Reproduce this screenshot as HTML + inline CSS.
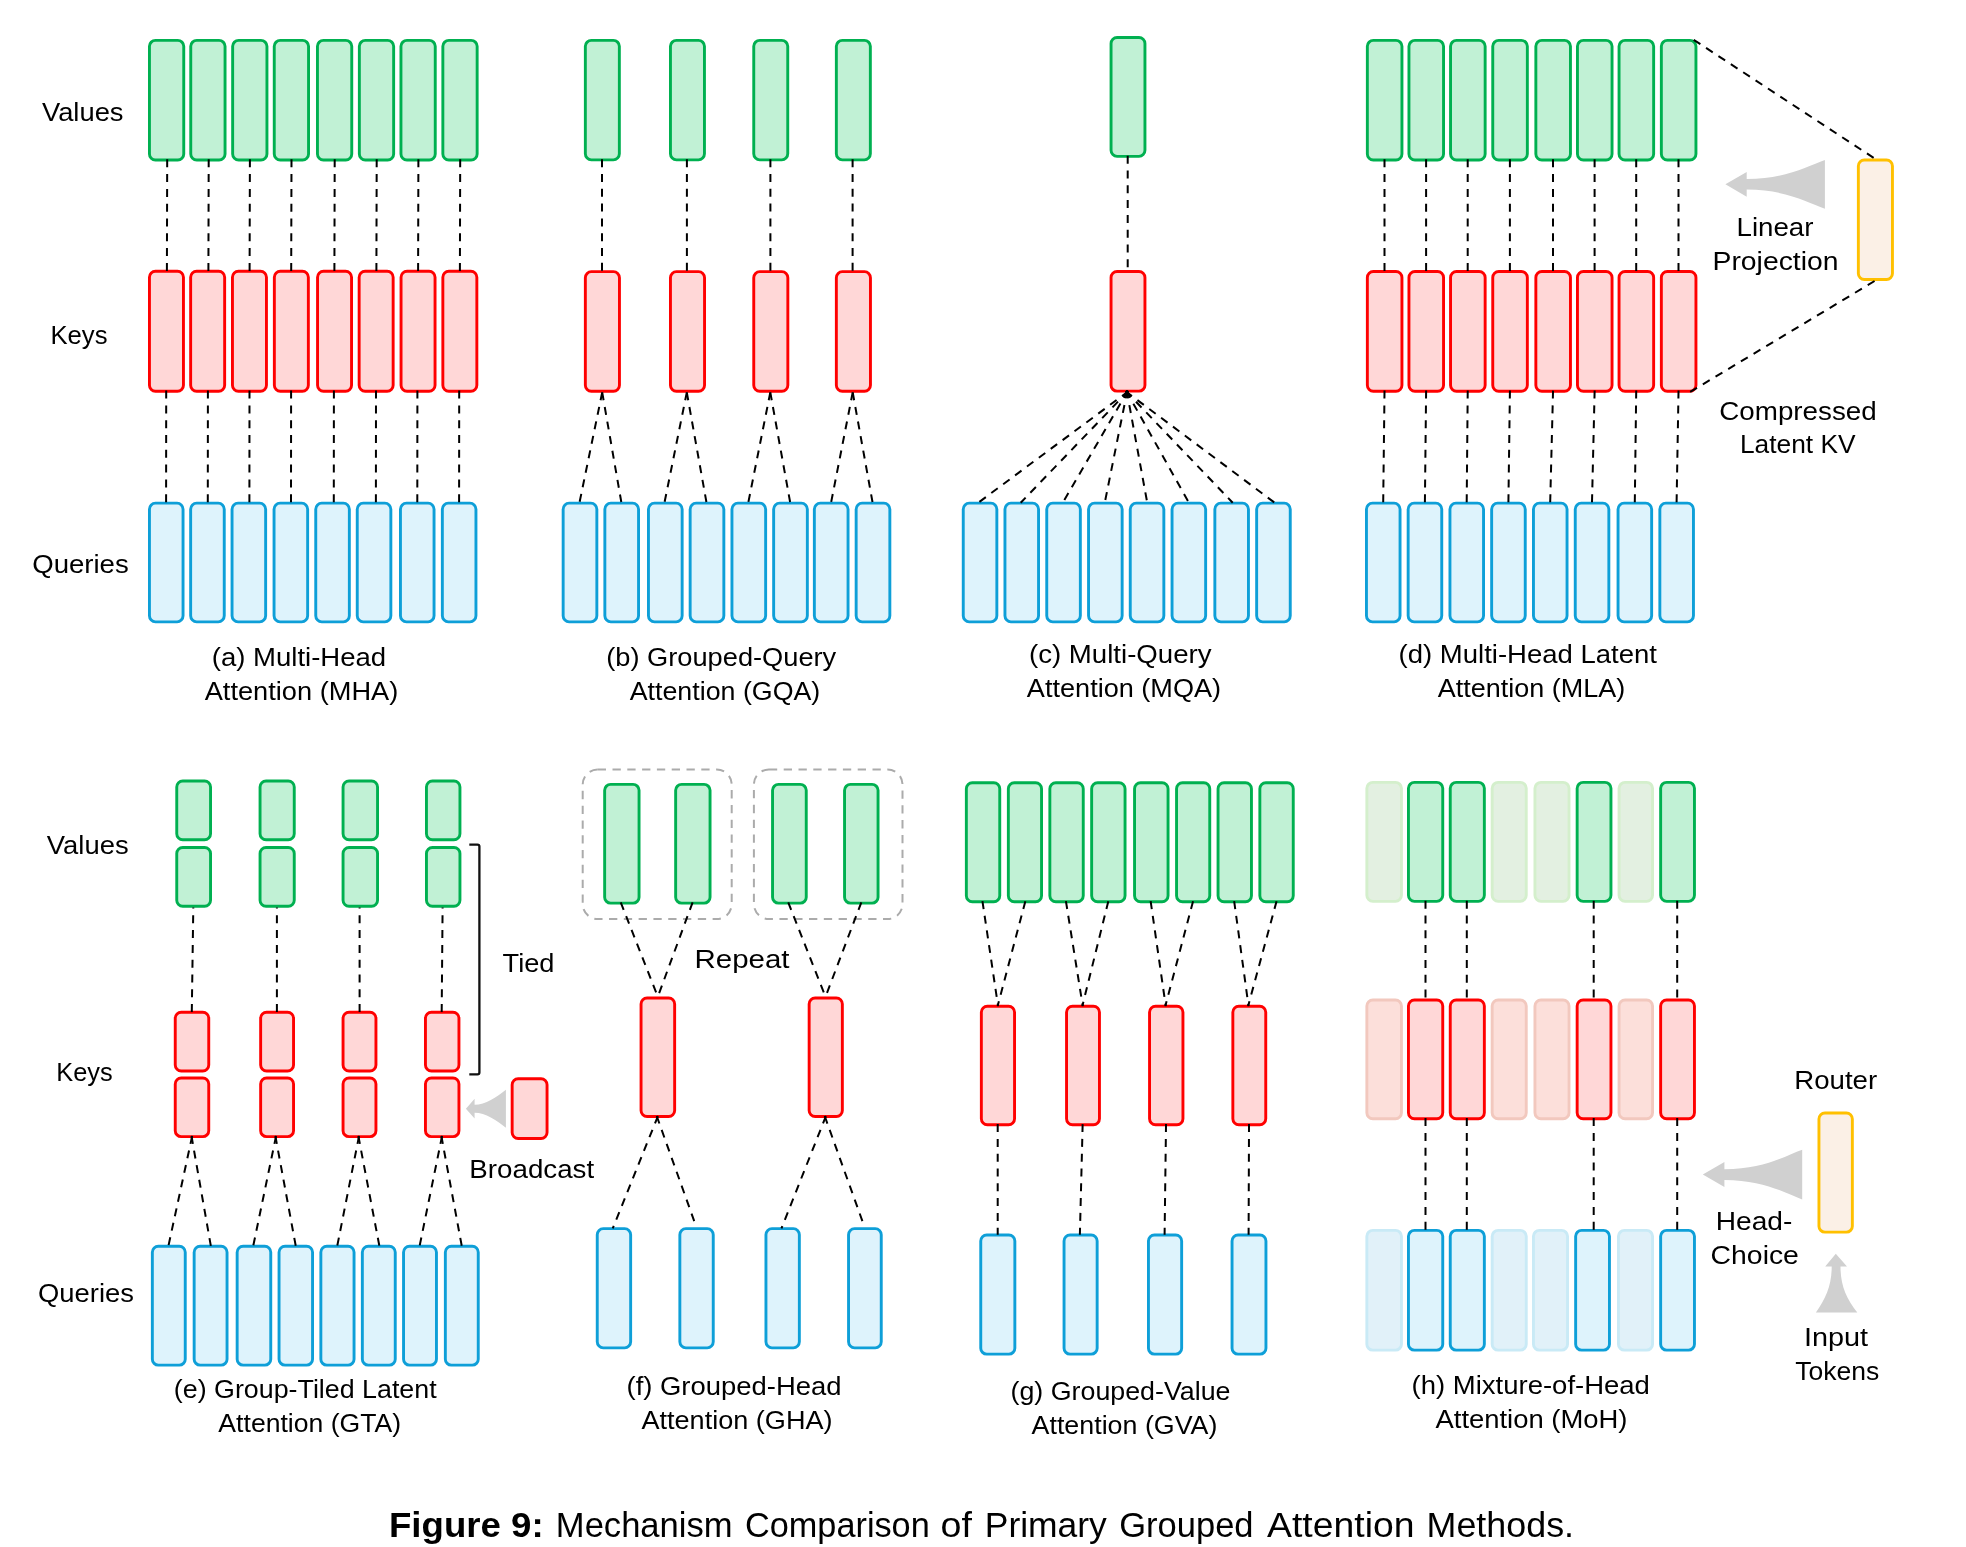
<!DOCTYPE html>
<html><head><meta charset="utf-8"><style>
html,body{margin:0;padding:0;background:#fff;width:1966px;height:1547px;overflow:hidden}
svg{display:block;will-change:transform}
.d{stroke:#000;stroke-width:2;stroke-dasharray:8 6.8;fill:none}
.t{font-family:"Liberation Sans",sans-serif;font-size:26.5px;fill:#000;text-anchor:middle}
.cap{font-family:"Liberation Sans",sans-serif;font-size:36px;fill:#000}
</style></head><body>
<svg width="1966" height="1547" viewBox="0 0 1966 1547">
<rect x="149.45" y="40.35" width="34.30" height="119.60" rx="6.0" fill="#C1F1D5" stroke="#00B050" stroke-width="2.9"/>
<rect x="149.45" y="271.25" width="34.00" height="120.00" rx="6.0" fill="#FFD7D7" stroke="#FF0000" stroke-width="2.9"/>
<rect x="149.45" y="503.15" width="33.60" height="118.70" rx="6.0" fill="#DEF3FC" stroke="#0E9FD8" stroke-width="2.9"/>
<rect x="190.75" y="40.35" width="34.30" height="119.60" rx="6.0" fill="#C1F1D5" stroke="#00B050" stroke-width="2.9"/>
<rect x="190.65" y="271.25" width="34.00" height="120.00" rx="6.0" fill="#FFD7D7" stroke="#FF0000" stroke-width="2.9"/>
<rect x="190.65" y="503.15" width="33.60" height="118.70" rx="6.0" fill="#DEF3FC" stroke="#0E9FD8" stroke-width="2.9"/>
<rect x="232.65" y="40.35" width="34.30" height="119.60" rx="6.0" fill="#C1F1D5" stroke="#00B050" stroke-width="2.9"/>
<rect x="232.45" y="271.25" width="34.00" height="120.00" rx="6.0" fill="#FFD7D7" stroke="#FF0000" stroke-width="2.9"/>
<rect x="232.05" y="503.15" width="33.60" height="118.70" rx="6.0" fill="#DEF3FC" stroke="#0E9FD8" stroke-width="2.9"/>
<rect x="274.25" y="40.35" width="34.30" height="119.60" rx="6.0" fill="#C1F1D5" stroke="#00B050" stroke-width="2.9"/>
<rect x="274.35" y="271.25" width="34.00" height="120.00" rx="6.0" fill="#FFD7D7" stroke="#FF0000" stroke-width="2.9"/>
<rect x="274.05" y="503.15" width="33.60" height="118.70" rx="6.0" fill="#DEF3FC" stroke="#0E9FD8" stroke-width="2.9"/>
<rect x="317.45" y="40.35" width="34.30" height="119.60" rx="6.0" fill="#C1F1D5" stroke="#00B050" stroke-width="2.9"/>
<rect x="317.55" y="271.25" width="34.00" height="120.00" rx="6.0" fill="#FFD7D7" stroke="#FF0000" stroke-width="2.9"/>
<rect x="315.75" y="503.15" width="33.60" height="118.70" rx="6.0" fill="#DEF3FC" stroke="#0E9FD8" stroke-width="2.9"/>
<rect x="359.35" y="40.35" width="34.30" height="119.60" rx="6.0" fill="#C1F1D5" stroke="#00B050" stroke-width="2.9"/>
<rect x="359.15" y="271.25" width="34.00" height="120.00" rx="6.0" fill="#FFD7D7" stroke="#FF0000" stroke-width="2.9"/>
<rect x="357.25" y="503.15" width="33.60" height="118.70" rx="6.0" fill="#DEF3FC" stroke="#0E9FD8" stroke-width="2.9"/>
<rect x="400.95" y="40.35" width="34.30" height="119.60" rx="6.0" fill="#C1F1D5" stroke="#00B050" stroke-width="2.9"/>
<rect x="401.05" y="271.25" width="34.00" height="120.00" rx="6.0" fill="#FFD7D7" stroke="#FF0000" stroke-width="2.9"/>
<rect x="400.45" y="503.15" width="33.60" height="118.70" rx="6.0" fill="#DEF3FC" stroke="#0E9FD8" stroke-width="2.9"/>
<rect x="442.85" y="40.35" width="34.30" height="119.60" rx="6.0" fill="#C1F1D5" stroke="#00B050" stroke-width="2.9"/>
<rect x="442.85" y="271.25" width="34.00" height="120.00" rx="6.0" fill="#FFD7D7" stroke="#FF0000" stroke-width="2.9"/>
<rect x="442.35" y="503.15" width="33.60" height="118.70" rx="6.0" fill="#DEF3FC" stroke="#0E9FD8" stroke-width="2.9"/>
<line x1="167.20" y1="159.30" x2="166.90" y2="271.10" class="d"/>
<line x1="166.20" y1="390.60" x2="166.10" y2="503.00" class="d"/>
<line x1="208.70" y1="159.30" x2="208.40" y2="271.10" class="d"/>
<line x1="207.90" y1="390.60" x2="207.80" y2="503.00" class="d"/>
<line x1="249.90" y1="159.30" x2="249.60" y2="271.10" class="d"/>
<line x1="249.50" y1="390.60" x2="249.40" y2="503.00" class="d"/>
<line x1="291.50" y1="159.30" x2="291.20" y2="271.10" class="d"/>
<line x1="291.10" y1="390.60" x2="291.00" y2="503.00" class="d"/>
<line x1="334.70" y1="159.30" x2="334.40" y2="271.10" class="d"/>
<line x1="333.90" y1="390.60" x2="333.80" y2="503.00" class="d"/>
<line x1="376.70" y1="159.30" x2="376.40" y2="271.10" class="d"/>
<line x1="376.00" y1="390.60" x2="375.90" y2="503.00" class="d"/>
<line x1="418.40" y1="159.30" x2="418.10" y2="271.10" class="d"/>
<line x1="417.40" y1="390.60" x2="417.30" y2="503.00" class="d"/>
<line x1="460.20" y1="159.30" x2="459.90" y2="271.10" class="d"/>
<line x1="459.20" y1="390.60" x2="459.10" y2="503.00" class="d"/>
<text x="82.75" y="121.00" class="t" textLength="81.51" lengthAdjust="spacingAndGlyphs">Values</text>
<text x="79.00" y="343.80" class="t" textLength="57.00" lengthAdjust="spacingAndGlyphs">Keys</text>
<text x="80.50" y="572.80" class="t" textLength="96.48" lengthAdjust="spacingAndGlyphs">Queries</text>
<text x="299.00" y="666.20" class="t" textLength="174.41" lengthAdjust="spacingAndGlyphs">(a) Multi-Head</text>
<text x="301.50" y="700.00" class="t" textLength="193.56" lengthAdjust="spacingAndGlyphs">Attention (MHA)</text>
<rect x="585.35" y="40.35" width="34.00" height="119.50" rx="6.0" fill="#C1F1D5" stroke="#00B050" stroke-width="2.9"/>
<rect x="585.35" y="271.65" width="34.10" height="119.60" rx="6.0" fill="#FFD7D7" stroke="#FF0000" stroke-width="2.9"/>
<rect x="670.45" y="40.35" width="34.00" height="119.50" rx="6.0" fill="#C1F1D5" stroke="#00B050" stroke-width="2.9"/>
<rect x="670.45" y="271.65" width="34.10" height="119.60" rx="6.0" fill="#FFD7D7" stroke="#FF0000" stroke-width="2.9"/>
<rect x="753.75" y="40.35" width="34.00" height="119.50" rx="6.0" fill="#C1F1D5" stroke="#00B050" stroke-width="2.9"/>
<rect x="753.75" y="271.65" width="34.10" height="119.60" rx="6.0" fill="#FFD7D7" stroke="#FF0000" stroke-width="2.9"/>
<rect x="836.35" y="40.35" width="34.00" height="119.50" rx="6.0" fill="#C1F1D5" stroke="#00B050" stroke-width="2.9"/>
<rect x="836.35" y="271.65" width="34.10" height="119.60" rx="6.0" fill="#FFD7D7" stroke="#FF0000" stroke-width="2.9"/>
<rect x="563.15" y="503.15" width="33.70" height="118.70" rx="6.0" fill="#DEF3FC" stroke="#0E9FD8" stroke-width="2.9"/>
<rect x="604.85" y="503.15" width="33.70" height="118.70" rx="6.0" fill="#DEF3FC" stroke="#0E9FD8" stroke-width="2.9"/>
<rect x="648.45" y="503.15" width="33.70" height="118.70" rx="6.0" fill="#DEF3FC" stroke="#0E9FD8" stroke-width="2.9"/>
<rect x="690.15" y="503.15" width="33.70" height="118.70" rx="6.0" fill="#DEF3FC" stroke="#0E9FD8" stroke-width="2.9"/>
<rect x="731.95" y="503.15" width="33.70" height="118.70" rx="6.0" fill="#DEF3FC" stroke="#0E9FD8" stroke-width="2.9"/>
<rect x="773.65" y="503.15" width="33.70" height="118.70" rx="6.0" fill="#DEF3FC" stroke="#0E9FD8" stroke-width="2.9"/>
<rect x="814.35" y="503.15" width="33.70" height="118.70" rx="6.0" fill="#DEF3FC" stroke="#0E9FD8" stroke-width="2.9"/>
<rect x="856.15" y="503.15" width="33.70" height="118.70" rx="6.0" fill="#DEF3FC" stroke="#0E9FD8" stroke-width="2.9"/>
<line x1="602.00" y1="159.20" x2="602.00" y2="271.50" class="d"/>
<line x1="686.90" y1="159.20" x2="686.90" y2="271.50" class="d"/>
<line x1="770.40" y1="159.20" x2="770.40" y2="271.50" class="d"/>
<line x1="852.60" y1="159.20" x2="852.60" y2="271.50" class="d"/>
<line x1="602.20" y1="392.40" x2="579.60" y2="502.00" class="d"/>
<line x1="602.20" y1="392.40" x2="621.30" y2="502.00" class="d"/>
<line x1="686.80" y1="392.40" x2="664.60" y2="502.00" class="d"/>
<line x1="686.80" y1="392.40" x2="706.40" y2="502.00" class="d"/>
<line x1="770.30" y1="392.40" x2="748.40" y2="502.00" class="d"/>
<line x1="770.30" y1="392.40" x2="790.10" y2="502.00" class="d"/>
<line x1="852.70" y1="392.40" x2="831.20" y2="502.00" class="d"/>
<line x1="852.70" y1="392.40" x2="872.50" y2="502.00" class="d"/>
<text x="721.25" y="665.70" class="t" textLength="229.93" lengthAdjust="spacingAndGlyphs">(b) Grouped-Query</text>
<text x="725.00" y="699.50" class="t" textLength="190.54" lengthAdjust="spacingAndGlyphs">Attention (GQA)</text>
<rect x="1111.05" y="37.45" width="33.90" height="118.90" rx="6.0" fill="#C1F1D5" stroke="#00B050" stroke-width="2.9"/>
<rect x="1111.05" y="271.45" width="33.90" height="119.70" rx="6.0" fill="#FFD7D7" stroke="#FF0000" stroke-width="2.9"/>
<rect x="963.25" y="503.15" width="33.60" height="118.70" rx="6.0" fill="#DEF3FC" stroke="#0E9FD8" stroke-width="2.9"/>
<rect x="1004.95" y="503.15" width="33.60" height="118.70" rx="6.0" fill="#DEF3FC" stroke="#0E9FD8" stroke-width="2.9"/>
<rect x="1046.75" y="503.15" width="33.60" height="118.70" rx="6.0" fill="#DEF3FC" stroke="#0E9FD8" stroke-width="2.9"/>
<rect x="1088.55" y="503.15" width="33.60" height="118.70" rx="6.0" fill="#DEF3FC" stroke="#0E9FD8" stroke-width="2.9"/>
<rect x="1130.25" y="503.15" width="33.60" height="118.70" rx="6.0" fill="#DEF3FC" stroke="#0E9FD8" stroke-width="2.9"/>
<rect x="1172.05" y="503.15" width="33.60" height="118.70" rx="6.0" fill="#DEF3FC" stroke="#0E9FD8" stroke-width="2.9"/>
<rect x="1214.85" y="503.15" width="33.60" height="118.70" rx="6.0" fill="#DEF3FC" stroke="#0E9FD8" stroke-width="2.9"/>
<rect x="1256.65" y="503.15" width="33.60" height="118.70" rx="6.0" fill="#DEF3FC" stroke="#0E9FD8" stroke-width="2.9"/>
<line x1="1127.70" y1="155.70" x2="1127.70" y2="271.30" class="d"/>
<line x1="1128.45" y1="391.23" x2="978.40" y2="502.60" class="d"/>
<line x1="1128.25" y1="391.00" x2="1020.71" y2="502.72" class="d"/>
<line x1="1127.90" y1="390.74" x2="1062.70" y2="502.86" class="d"/>
<line x1="1127.36" y1="390.54" x2="1104.70" y2="502.98" class="d"/>
<line x1="1126.68" y1="390.53" x2="1147.28" y2="502.98" class="d"/>
<line x1="1126.12" y1="390.73" x2="1188.99" y2="502.87" class="d"/>
<line x1="1125.76" y1="391.00" x2="1232.69" y2="502.72" class="d"/>
<line x1="1125.56" y1="391.22" x2="1274.50" y2="502.60" class="d"/>
<text x="1120.25" y="662.90" class="t" textLength="182.50" lengthAdjust="spacingAndGlyphs">(c) Multi-Query</text>
<text x="1124.00" y="696.50" class="t" textLength="194.23" lengthAdjust="spacingAndGlyphs">Attention (MQA)</text>
<rect x="1367.35" y="40.35" width="34.60" height="119.60" rx="6.0" fill="#C1F1D5" stroke="#00B050" stroke-width="2.9"/>
<rect x="1367.35" y="271.45" width="34.60" height="119.80" rx="6.0" fill="#FFD7D7" stroke="#FF0000" stroke-width="2.9"/>
<rect x="1366.45" y="503.15" width="33.60" height="118.70" rx="6.0" fill="#DEF3FC" stroke="#0E9FD8" stroke-width="2.9"/>
<rect x="1408.95" y="40.35" width="34.60" height="119.60" rx="6.0" fill="#C1F1D5" stroke="#00B050" stroke-width="2.9"/>
<rect x="1408.95" y="271.45" width="34.60" height="119.80" rx="6.0" fill="#FFD7D7" stroke="#FF0000" stroke-width="2.9"/>
<rect x="1408.15" y="503.15" width="33.60" height="118.70" rx="6.0" fill="#DEF3FC" stroke="#0E9FD8" stroke-width="2.9"/>
<rect x="1450.55" y="40.35" width="34.60" height="119.60" rx="6.0" fill="#C1F1D5" stroke="#00B050" stroke-width="2.9"/>
<rect x="1450.55" y="271.45" width="34.60" height="119.80" rx="6.0" fill="#FFD7D7" stroke="#FF0000" stroke-width="2.9"/>
<rect x="1449.95" y="503.15" width="33.60" height="118.70" rx="6.0" fill="#DEF3FC" stroke="#0E9FD8" stroke-width="2.9"/>
<rect x="1492.75" y="40.35" width="34.60" height="119.60" rx="6.0" fill="#C1F1D5" stroke="#00B050" stroke-width="2.9"/>
<rect x="1492.75" y="271.45" width="34.60" height="119.80" rx="6.0" fill="#FFD7D7" stroke="#FF0000" stroke-width="2.9"/>
<rect x="1491.65" y="503.15" width="33.60" height="118.70" rx="6.0" fill="#DEF3FC" stroke="#0E9FD8" stroke-width="2.9"/>
<rect x="1535.85" y="40.35" width="34.60" height="119.60" rx="6.0" fill="#C1F1D5" stroke="#00B050" stroke-width="2.9"/>
<rect x="1535.85" y="271.45" width="34.60" height="119.80" rx="6.0" fill="#FFD7D7" stroke="#FF0000" stroke-width="2.9"/>
<rect x="1533.45" y="503.15" width="33.60" height="118.70" rx="6.0" fill="#DEF3FC" stroke="#0E9FD8" stroke-width="2.9"/>
<rect x="1577.45" y="40.35" width="34.60" height="119.60" rx="6.0" fill="#C1F1D5" stroke="#00B050" stroke-width="2.9"/>
<rect x="1577.45" y="271.45" width="34.60" height="119.80" rx="6.0" fill="#FFD7D7" stroke="#FF0000" stroke-width="2.9"/>
<rect x="1575.25" y="503.15" width="33.60" height="118.70" rx="6.0" fill="#DEF3FC" stroke="#0E9FD8" stroke-width="2.9"/>
<rect x="1619.05" y="40.35" width="34.60" height="119.60" rx="6.0" fill="#C1F1D5" stroke="#00B050" stroke-width="2.9"/>
<rect x="1619.05" y="271.45" width="34.60" height="119.80" rx="6.0" fill="#FFD7D7" stroke="#FF0000" stroke-width="2.9"/>
<rect x="1618.05" y="503.15" width="33.60" height="118.70" rx="6.0" fill="#DEF3FC" stroke="#0E9FD8" stroke-width="2.9"/>
<rect x="1661.35" y="40.35" width="34.60" height="119.60" rx="6.0" fill="#C1F1D5" stroke="#00B050" stroke-width="2.9"/>
<rect x="1661.35" y="271.45" width="34.60" height="119.80" rx="6.0" fill="#FFD7D7" stroke="#FF0000" stroke-width="2.9"/>
<rect x="1659.85" y="503.15" width="33.60" height="118.70" rx="6.0" fill="#DEF3FC" stroke="#0E9FD8" stroke-width="2.9"/>
<line x1="1384.50" y1="159.30" x2="1384.50" y2="271.30" class="d"/>
<line x1="1384.52" y1="390.60" x2="1383.19" y2="503.00" class="d"/>
<line x1="1426.10" y1="159.30" x2="1426.10" y2="271.30" class="d"/>
<line x1="1426.12" y1="390.60" x2="1424.89" y2="503.00" class="d"/>
<line x1="1467.70" y1="159.30" x2="1467.70" y2="271.30" class="d"/>
<line x1="1467.72" y1="390.60" x2="1466.69" y2="503.00" class="d"/>
<line x1="1509.90" y1="159.30" x2="1509.90" y2="271.30" class="d"/>
<line x1="1509.92" y1="390.60" x2="1508.39" y2="503.00" class="d"/>
<line x1="1553.00" y1="159.30" x2="1553.00" y2="271.30" class="d"/>
<line x1="1553.05" y1="390.60" x2="1550.17" y2="503.00" class="d"/>
<line x1="1594.60" y1="159.30" x2="1594.60" y2="271.30" class="d"/>
<line x1="1594.64" y1="390.60" x2="1591.98" y2="503.00" class="d"/>
<line x1="1636.20" y1="159.30" x2="1636.20" y2="271.30" class="d"/>
<line x1="1636.22" y1="390.60" x2="1634.79" y2="503.00" class="d"/>
<line x1="1678.50" y1="159.30" x2="1678.50" y2="271.30" class="d"/>
<line x1="1678.53" y1="390.60" x2="1676.58" y2="503.00" class="d"/>
<rect x="1858.35" y="159.95" width="34.10" height="119.60" rx="6.0" fill="#FBF0E6" stroke="#FFC000" stroke-width="2.9"/>
<line x1="1693.69" y1="39.81" x2="1875.94" y2="159.35" class="d"/>
<line x1="1690.16" y1="391.93" x2="1875.96" y2="280.18" class="d"/>
<text x="1775.00" y="236.40" class="t" textLength="77.00" lengthAdjust="spacingAndGlyphs">Linear</text>
<text x="1775.50" y="269.70" class="t" textLength="125.91" lengthAdjust="spacingAndGlyphs">Projection</text>
<text x="1798.00" y="419.80" class="t" textLength="157.35" lengthAdjust="spacingAndGlyphs">Compressed</text>
<text x="1797.75" y="453.40" class="t" textLength="115.58" lengthAdjust="spacingAndGlyphs">Latent KV</text>
<text x="1527.75" y="662.90" class="t" textLength="258.40" lengthAdjust="spacingAndGlyphs">(d) Multi-Head Latent</text>
<text x="1531.50" y="696.50" class="t" textLength="187.33" lengthAdjust="spacingAndGlyphs">Attention (MLA)</text>
<path d="M1725.40,184.30 L1746.70,171.95 L1746.70,179.00 C1785.80,179.00 1807.70,166.01 1824.90,159.90 L1824.90,208.70 C1807.70,202.59 1785.80,189.60 1746.70,189.60 L1746.70,196.65 Z" fill="#D0D0D0"/>
<path d="M1702.80,1174.60 L1724.40,1162.10 L1724.40,1169.30 C1763.30,1169.30 1785.08,1156.04 1802.20,1149.80 L1802.20,1199.40 C1785.08,1193.16 1763.30,1179.90 1724.40,1179.90 L1724.40,1187.10 Z" fill="#D0D0D0"/>
<path d="M465.90,1108.70 L474.60,1098.80 L474.60,1104.70 C485.55,1104.70 496.51,1097.20 505.90,1089.70 L505.90,1127.70 C496.51,1120.20 485.55,1112.70 474.60,1112.70 L474.60,1118.60 Z" fill="#D0D0D0"/>
<path d="M1835.8,1253.7 L1847.0,1266.6 L1840.5,1266.6 C1840.5,1285 1846,1298 1857.3,1312.4 L1815.9,1312.4 C1826,1298 1831.7,1285 1831.7,1266.6 L1825.2,1266.6 Z" fill="#D0D0D0"/>
<rect x="176.75" y="780.95" width="33.80" height="58.80" rx="6.0" fill="#C1F1D5" stroke="#00B050" stroke-width="2.9"/>
<rect x="176.75" y="847.55" width="33.80" height="58.70" rx="6.0" fill="#C1F1D5" stroke="#00B050" stroke-width="2.9"/>
<rect x="260.05" y="780.95" width="34.20" height="58.80" rx="6.0" fill="#C1F1D5" stroke="#00B050" stroke-width="2.9"/>
<rect x="260.05" y="847.55" width="34.20" height="58.70" rx="6.0" fill="#C1F1D5" stroke="#00B050" stroke-width="2.9"/>
<rect x="343.05" y="780.95" width="34.50" height="58.80" rx="6.0" fill="#C1F1D5" stroke="#00B050" stroke-width="2.9"/>
<rect x="343.05" y="847.55" width="34.50" height="58.70" rx="6.0" fill="#C1F1D5" stroke="#00B050" stroke-width="2.9"/>
<rect x="426.45" y="780.95" width="33.50" height="58.80" rx="6.0" fill="#C1F1D5" stroke="#00B050" stroke-width="2.9"/>
<rect x="426.45" y="847.55" width="33.50" height="58.70" rx="6.0" fill="#C1F1D5" stroke="#00B050" stroke-width="2.9"/>
<rect x="175.25" y="1012.25" width="33.50" height="58.80" rx="6.0" fill="#FFD7D7" stroke="#FF0000" stroke-width="2.9"/>
<rect x="175.25" y="1077.95" width="33.50" height="58.70" rx="6.0" fill="#FFD7D7" stroke="#FF0000" stroke-width="2.9"/>
<rect x="260.65" y="1012.25" width="32.90" height="58.80" rx="6.0" fill="#FFD7D7" stroke="#FF0000" stroke-width="2.9"/>
<rect x="260.65" y="1077.95" width="32.90" height="58.70" rx="6.0" fill="#FFD7D7" stroke="#FF0000" stroke-width="2.9"/>
<rect x="343.05" y="1012.25" width="32.90" height="58.80" rx="6.0" fill="#FFD7D7" stroke="#FF0000" stroke-width="2.9"/>
<rect x="343.05" y="1077.95" width="32.90" height="58.70" rx="6.0" fill="#FFD7D7" stroke="#FF0000" stroke-width="2.9"/>
<rect x="425.45" y="1012.25" width="33.50" height="58.80" rx="6.0" fill="#FFD7D7" stroke="#FF0000" stroke-width="2.9"/>
<rect x="425.45" y="1077.95" width="33.50" height="58.70" rx="6.0" fill="#FFD7D7" stroke="#FF0000" stroke-width="2.9"/>
<rect x="512.15" y="1078.75" width="34.90" height="59.80" rx="6.0" fill="#FFD7D7" stroke="#FF0000" stroke-width="2.9"/>
<line x1="191.79" y1="1012.10" x2="193.30" y2="907.40" class="d"/>
<line x1="276.90" y1="1012.10" x2="276.90" y2="907.40" class="d"/>
<line x1="359.60" y1="1012.10" x2="359.60" y2="907.40" class="d"/>
<line x1="441.69" y1="1012.10" x2="442.60" y2="907.40" class="d"/>
<rect x="152.35" y="1246.25" width="32.90" height="118.90" rx="6.0" fill="#DEF3FC" stroke="#0E9FD8" stroke-width="2.9"/>
<rect x="194.15" y="1246.25" width="32.90" height="118.90" rx="6.0" fill="#DEF3FC" stroke="#0E9FD8" stroke-width="2.9"/>
<rect x="237.15" y="1246.25" width="33.60" height="118.90" rx="6.0" fill="#DEF3FC" stroke="#0E9FD8" stroke-width="2.9"/>
<rect x="279.05" y="1246.25" width="33.50" height="118.90" rx="6.0" fill="#DEF3FC" stroke="#0E9FD8" stroke-width="2.9"/>
<rect x="320.85" y="1246.25" width="33.20" height="118.90" rx="6.0" fill="#DEF3FC" stroke="#0E9FD8" stroke-width="2.9"/>
<rect x="362.35" y="1246.25" width="32.90" height="118.90" rx="6.0" fill="#DEF3FC" stroke="#0E9FD8" stroke-width="2.9"/>
<rect x="403.55" y="1246.25" width="32.90" height="118.90" rx="6.0" fill="#DEF3FC" stroke="#0E9FD8" stroke-width="2.9"/>
<rect x="445.35" y="1246.25" width="32.90" height="118.90" rx="6.0" fill="#DEF3FC" stroke="#0E9FD8" stroke-width="2.9"/>
<line x1="192.18" y1="1136.04" x2="168.39" y2="1246.08" class="d"/>
<line x1="191.49" y1="1136.03" x2="210.87" y2="1246.08" class="d"/>
<line x1="276.07" y1="1136.04" x2="253.20" y2="1246.08" class="d"/>
<line x1="275.37" y1="1136.03" x2="295.78" y2="1246.08" class="d"/>
<line x1="359.05" y1="1136.03" x2="337.21" y2="1246.08" class="d"/>
<line x1="358.36" y1="1136.03" x2="379.39" y2="1246.08" class="d"/>
<line x1="442.06" y1="1136.04" x2="419.60" y2="1246.08" class="d"/>
<line x1="441.37" y1="1136.03" x2="461.78" y2="1246.08" class="d"/>
<path d="M469.3,844.6 L477.5,844.6 Q479.4,844.6 479.4,846.5 L479.4,1072.4 Q479.4,1074.3 477.5,1074.3 L469.3,1074.3" fill="none" stroke="#111" stroke-width="2.3"/>
<text x="528.50" y="972.10" class="t" textLength="51.85" lengthAdjust="spacingAndGlyphs">Tied</text>
<text x="531.75" y="1178.10" class="t" textLength="124.84" lengthAdjust="spacingAndGlyphs">Broadcast</text>
<text x="87.75" y="854.00" class="t" textLength="81.72" lengthAdjust="spacingAndGlyphs">Values</text>
<text x="84.50" y="1081.30" class="t" textLength="56.40" lengthAdjust="spacingAndGlyphs">Keys</text>
<text x="86.00" y="1301.60" class="t" textLength="95.90" lengthAdjust="spacingAndGlyphs">Queries</text>
<text x="305.25" y="1398.30" class="t" textLength="262.78" lengthAdjust="spacingAndGlyphs">(e) Group-Tiled Latent</text>
<text x="309.75" y="1431.90" class="t" textLength="182.73" lengthAdjust="spacingAndGlyphs">Attention (GTA)</text>
<rect x="582.7" y="769.5" width="149.0" height="149.6" rx="15" fill="none" stroke="#ABABAB" stroke-width="2" stroke-dasharray="8.3 6.5"/>
<rect x="753.9" y="769.5" width="148.6" height="149.6" rx="15" fill="none" stroke="#ABABAB" stroke-width="2" stroke-dasharray="8.3 6.5"/>
<rect x="604.65" y="784.35" width="34.40" height="118.80" rx="6.0" fill="#C1F1D5" stroke="#00B050" stroke-width="2.9"/>
<rect x="675.65" y="784.35" width="34.40" height="118.80" rx="6.0" fill="#C1F1D5" stroke="#00B050" stroke-width="2.9"/>
<rect x="772.55" y="784.35" width="33.70" height="118.80" rx="6.0" fill="#C1F1D5" stroke="#00B050" stroke-width="2.9"/>
<rect x="844.55" y="784.35" width="33.50" height="118.80" rx="6.0" fill="#C1F1D5" stroke="#00B050" stroke-width="2.9"/>
<rect x="641.05" y="997.95" width="33.60" height="118.60" rx="6.0" fill="#FFD7D7" stroke="#FF0000" stroke-width="2.9"/>
<rect x="809.15" y="997.95" width="33.20" height="118.60" rx="6.0" fill="#FFD7D7" stroke="#FF0000" stroke-width="2.9"/>
<line x1="620.74" y1="902.32" x2="658.17" y2="997.73" class="d"/>
<line x1="692.62" y1="902.31" x2="657.45" y2="997.74" class="d"/>
<line x1="788.24" y1="902.33" x2="825.87" y2="997.73" class="d"/>
<line x1="861.34" y1="902.32" x2="825.15" y2="997.73" class="d"/>
<rect x="597.25" y="1228.65" width="33.40" height="119.20" rx="6.0" fill="#DEF3FC" stroke="#0E9FD8" stroke-width="2.9"/>
<rect x="679.85" y="1228.65" width="33.40" height="119.20" rx="6.0" fill="#DEF3FC" stroke="#0E9FD8" stroke-width="2.9"/>
<rect x="765.95" y="1228.65" width="33.40" height="119.20" rx="6.0" fill="#DEF3FC" stroke="#0E9FD8" stroke-width="2.9"/>
<rect x="848.55" y="1228.65" width="32.70" height="119.20" rx="6.0" fill="#DEF3FC" stroke="#0E9FD8" stroke-width="2.9"/>
<line x1="657.97" y1="1116.03" x2="612.73" y2="1228.43" class="d"/>
<line x1="656.69" y1="1116.00" x2="695.34" y2="1224.24" class="d"/>
<line x1="825.96" y1="1116.03" x2="781.43" y2="1228.43" class="d"/>
<line x1="824.69" y1="1116.01" x2="863.54" y2="1224.24" class="d"/>
<text x="742.00" y="967.70" class="t" textLength="94.94" lengthAdjust="spacingAndGlyphs">Repeat</text>
<text x="734.00" y="1395.10" class="t" textLength="214.98" lengthAdjust="spacingAndGlyphs">(f) Grouped-Head</text>
<text x="737.00" y="1429.30" class="t" textLength="191.07" lengthAdjust="spacingAndGlyphs">Attention (GHA)</text>
<rect x="966.35" y="782.75" width="33.40" height="119.00" rx="6.0" fill="#C1F1D5" stroke="#00B050" stroke-width="2.9"/>
<rect x="1008.35" y="782.75" width="33.20" height="119.00" rx="6.0" fill="#C1F1D5" stroke="#00B050" stroke-width="2.9"/>
<rect x="1049.85" y="782.75" width="33.40" height="119.00" rx="6.0" fill="#C1F1D5" stroke="#00B050" stroke-width="2.9"/>
<rect x="1091.65" y="782.75" width="33.40" height="119.00" rx="6.0" fill="#C1F1D5" stroke="#00B050" stroke-width="2.9"/>
<rect x="1134.55" y="782.75" width="33.50" height="119.00" rx="6.0" fill="#C1F1D5" stroke="#00B050" stroke-width="2.9"/>
<rect x="1176.55" y="782.75" width="33.20" height="119.00" rx="6.0" fill="#C1F1D5" stroke="#00B050" stroke-width="2.9"/>
<rect x="1218.05" y="782.75" width="33.40" height="119.00" rx="6.0" fill="#C1F1D5" stroke="#00B050" stroke-width="2.9"/>
<rect x="1259.85" y="782.75" width="33.40" height="119.00" rx="6.0" fill="#C1F1D5" stroke="#00B050" stroke-width="2.9"/>
<rect x="981.35" y="1006.25" width="33.20" height="118.50" rx="6.0" fill="#FFD7D7" stroke="#FF0000" stroke-width="2.9"/>
<rect x="1066.55" y="1006.25" width="32.90" height="118.50" rx="6.0" fill="#FFD7D7" stroke="#FF0000" stroke-width="2.9"/>
<rect x="1149.55" y="1006.25" width="33.40" height="118.50" rx="6.0" fill="#FFD7D7" stroke="#FF0000" stroke-width="2.9"/>
<rect x="1232.85" y="1006.25" width="32.90" height="118.50" rx="6.0" fill="#FFD7D7" stroke="#FF0000" stroke-width="2.9"/>
<line x1="982.44" y1="901.12" x2="998.05" y2="1006.09" class="d"/>
<line x1="1025.36" y1="901.16" x2="997.64" y2="1006.07" class="d"/>
<line x1="1065.91" y1="901.12" x2="1082.76" y2="1006.09" class="d"/>
<line x1="1108.33" y1="901.15" x2="1082.36" y2="1006.07" class="d"/>
<line x1="1150.64" y1="901.12" x2="1165.74" y2="1006.09" class="d"/>
<line x1="1193.06" y1="901.16" x2="1165.34" y2="1006.07" class="d"/>
<line x1="1234.16" y1="901.12" x2="1248.54" y2="1006.09" class="d"/>
<line x1="1276.57" y1="901.16" x2="1248.14" y2="1006.07" class="d"/>
<rect x="980.75" y="1234.95" width="34.10" height="119.20" rx="6.0" fill="#DEF3FC" stroke="#0E9FD8" stroke-width="2.9"/>
<rect x="1064.05" y="1234.95" width="33.10" height="119.20" rx="6.0" fill="#DEF3FC" stroke="#0E9FD8" stroke-width="2.9"/>
<rect x="1148.45" y="1234.95" width="33.20" height="119.20" rx="6.0" fill="#DEF3FC" stroke="#0E9FD8" stroke-width="2.9"/>
<rect x="1232.05" y="1234.95" width="33.90" height="119.20" rx="6.0" fill="#DEF3FC" stroke="#0E9FD8" stroke-width="2.9"/>
<line x1="997.70" y1="1124.10" x2="997.70" y2="1234.80" class="d"/>
<line x1="1082.65" y1="1124.10" x2="1079.87" y2="1234.80" class="d"/>
<line x1="1166.02" y1="1124.10" x2="1164.59" y2="1234.80" class="d"/>
<line x1="1249.01" y1="1124.10" x2="1248.60" y2="1234.80" class="d"/>
<text x="1120.50" y="1399.50" class="t" textLength="219.95" lengthAdjust="spacingAndGlyphs">(g) Grouped-Value</text>
<text x="1124.50" y="1434.40" class="t" textLength="185.85" lengthAdjust="spacingAndGlyphs">Attention (GVA)</text>
<rect x="1366.85" y="782.35" width="34.60" height="119.00" rx="6.0" fill="#E3F0E1" stroke="#D4EFCC" stroke-width="2.9"/>
<rect x="1366.85" y="1000.05" width="34.60" height="118.70" rx="6.0" fill="#FCDFDA" stroke="#F2C8BE" stroke-width="2.9"/>
<rect x="1366.85" y="1230.35" width="34.60" height="119.80" rx="6.0" fill="#E1F1F9" stroke="#C9EAF6" stroke-width="2.9"/>
<rect x="1408.45" y="782.35" width="34.30" height="119.00" rx="6.0" fill="#C1F1D5" stroke="#00B050" stroke-width="2.9"/>
<rect x="1408.45" y="1000.05" width="34.30" height="118.70" rx="6.0" fill="#FFD7D7" stroke="#FF0000" stroke-width="2.9"/>
<rect x="1408.45" y="1230.35" width="34.30" height="119.80" rx="6.0" fill="#DEF3FC" stroke="#0E9FD8" stroke-width="2.9"/>
<rect x="1450.25" y="782.35" width="34.10" height="119.00" rx="6.0" fill="#C1F1D5" stroke="#00B050" stroke-width="2.9"/>
<rect x="1450.25" y="1000.05" width="34.10" height="118.70" rx="6.0" fill="#FFD7D7" stroke="#FF0000" stroke-width="2.9"/>
<rect x="1450.25" y="1230.35" width="34.10" height="119.80" rx="6.0" fill="#DEF3FC" stroke="#0E9FD8" stroke-width="2.9"/>
<rect x="1492.15" y="782.35" width="34.10" height="119.00" rx="6.0" fill="#E3F0E1" stroke="#D4EFCC" stroke-width="2.9"/>
<rect x="1492.15" y="1000.05" width="34.10" height="118.70" rx="6.0" fill="#FCDFDA" stroke="#F2C8BE" stroke-width="2.9"/>
<rect x="1492.15" y="1230.35" width="34.10" height="119.80" rx="6.0" fill="#E1F1F9" stroke="#C9EAF6" stroke-width="2.9"/>
<rect x="1534.95" y="782.35" width="34.10" height="119.00" rx="6.0" fill="#E3F0E1" stroke="#D4EFCC" stroke-width="2.9"/>
<rect x="1534.95" y="1000.05" width="34.10" height="118.70" rx="6.0" fill="#FCDFDA" stroke="#F2C8BE" stroke-width="2.9"/>
<rect x="1533.45" y="1230.35" width="34.10" height="119.80" rx="6.0" fill="#E1F1F9" stroke="#C9EAF6" stroke-width="2.9"/>
<rect x="1577.15" y="782.35" width="33.80" height="119.00" rx="6.0" fill="#C1F1D5" stroke="#00B050" stroke-width="2.9"/>
<rect x="1577.15" y="1000.05" width="33.80" height="118.70" rx="6.0" fill="#FFD7D7" stroke="#FF0000" stroke-width="2.9"/>
<rect x="1575.65" y="1230.35" width="33.80" height="119.80" rx="6.0" fill="#DEF3FC" stroke="#0E9FD8" stroke-width="2.9"/>
<rect x="1619.05" y="782.35" width="33.50" height="119.00" rx="6.0" fill="#E3F0E1" stroke="#D4EFCC" stroke-width="2.9"/>
<rect x="1619.05" y="1000.05" width="33.50" height="118.70" rx="6.0" fill="#FCDFDA" stroke="#F2C8BE" stroke-width="2.9"/>
<rect x="1618.45" y="1230.35" width="34.10" height="119.80" rx="6.0" fill="#E1F1F9" stroke="#C9EAF6" stroke-width="2.9"/>
<rect x="1660.65" y="782.35" width="33.80" height="119.00" rx="6.0" fill="#C1F1D5" stroke="#00B050" stroke-width="2.9"/>
<rect x="1660.65" y="1000.05" width="33.80" height="118.70" rx="6.0" fill="#FFD7D7" stroke="#FF0000" stroke-width="2.9"/>
<rect x="1660.65" y="1230.35" width="33.80" height="119.80" rx="6.0" fill="#DEF3FC" stroke="#0E9FD8" stroke-width="2.9"/>
<line x1="1425.50" y1="900.70" x2="1425.50" y2="999.90" class="d"/>
<line x1="1425.50" y1="1118.10" x2="1425.50" y2="1230.20" class="d"/>
<line x1="1466.80" y1="900.70" x2="1466.80" y2="999.90" class="d"/>
<line x1="1466.80" y1="1118.10" x2="1466.80" y2="1230.20" class="d"/>
<line x1="1593.70" y1="900.70" x2="1593.70" y2="999.90" class="d"/>
<line x1="1593.70" y1="1118.10" x2="1593.70" y2="1230.20" class="d"/>
<line x1="1677.20" y1="900.70" x2="1677.20" y2="999.90" class="d"/>
<line x1="1677.20" y1="1118.10" x2="1677.20" y2="1230.20" class="d"/>
<rect x="1818.95" y="1112.95" width="33.40" height="119.20" rx="6.0" fill="#FBF0E6" stroke="#FFC000" stroke-width="2.9"/>
<text x="1835.75" y="1088.90" class="t" textLength="82.86" lengthAdjust="spacingAndGlyphs">Router</text>
<text x="1754.00" y="1229.80" class="t" textLength="76.59" lengthAdjust="spacingAndGlyphs">Head-</text>
<text x="1754.75" y="1263.70" class="t" textLength="88.28" lengthAdjust="spacingAndGlyphs">Choice</text>
<text x="1836.00" y="1346.30" class="t" textLength="64.14" lengthAdjust="spacingAndGlyphs">Input</text>
<text x="1837.25" y="1379.60" class="t" textLength="83.97" lengthAdjust="spacingAndGlyphs">Tokens</text>
<text x="1530.75" y="1394.10" class="t" textLength="238.28" lengthAdjust="spacingAndGlyphs">(h) Mixture-of-Head</text>
<text x="1531.50" y="1428.00" class="t" textLength="192.04" lengthAdjust="spacingAndGlyphs">Attention (MoH)</text>
<text x="466.30" y="1536.60" class="t" font-weight="700" textLength="154.59" lengthAdjust="spacingAndGlyphs" style="font-size:35.5px">Figure 9:</text>
<text x="644.20" y="1536.60" class="t" textLength="176.67" lengthAdjust="spacingAndGlyphs" style="font-size:35.5px">Mechanism</text>
<text x="837.40" y="1536.60" class="t" textLength="184.68" lengthAdjust="spacingAndGlyphs" style="font-size:35.5px">Comparison</text>
<text x="956.20" y="1536.60" class="t" textLength="31.37" lengthAdjust="spacingAndGlyphs" style="font-size:35.5px">of</text>
<text x="1045.80" y="1536.60" class="t" textLength="122.08" lengthAdjust="spacingAndGlyphs" style="font-size:35.5px">Primary</text>
<text x="1186.40" y="1536.60" class="t" textLength="134.25" lengthAdjust="spacingAndGlyphs" style="font-size:35.5px">Grouped</text>
<text x="1340.80" y="1536.60" class="t" textLength="147.46" lengthAdjust="spacingAndGlyphs" style="font-size:35.5px">Attention</text>
<text x="1500.30" y="1536.60" class="t" textLength="147.50" lengthAdjust="spacingAndGlyphs" style="font-size:35.5px">Methods.</text>
</svg>
</body></html>
